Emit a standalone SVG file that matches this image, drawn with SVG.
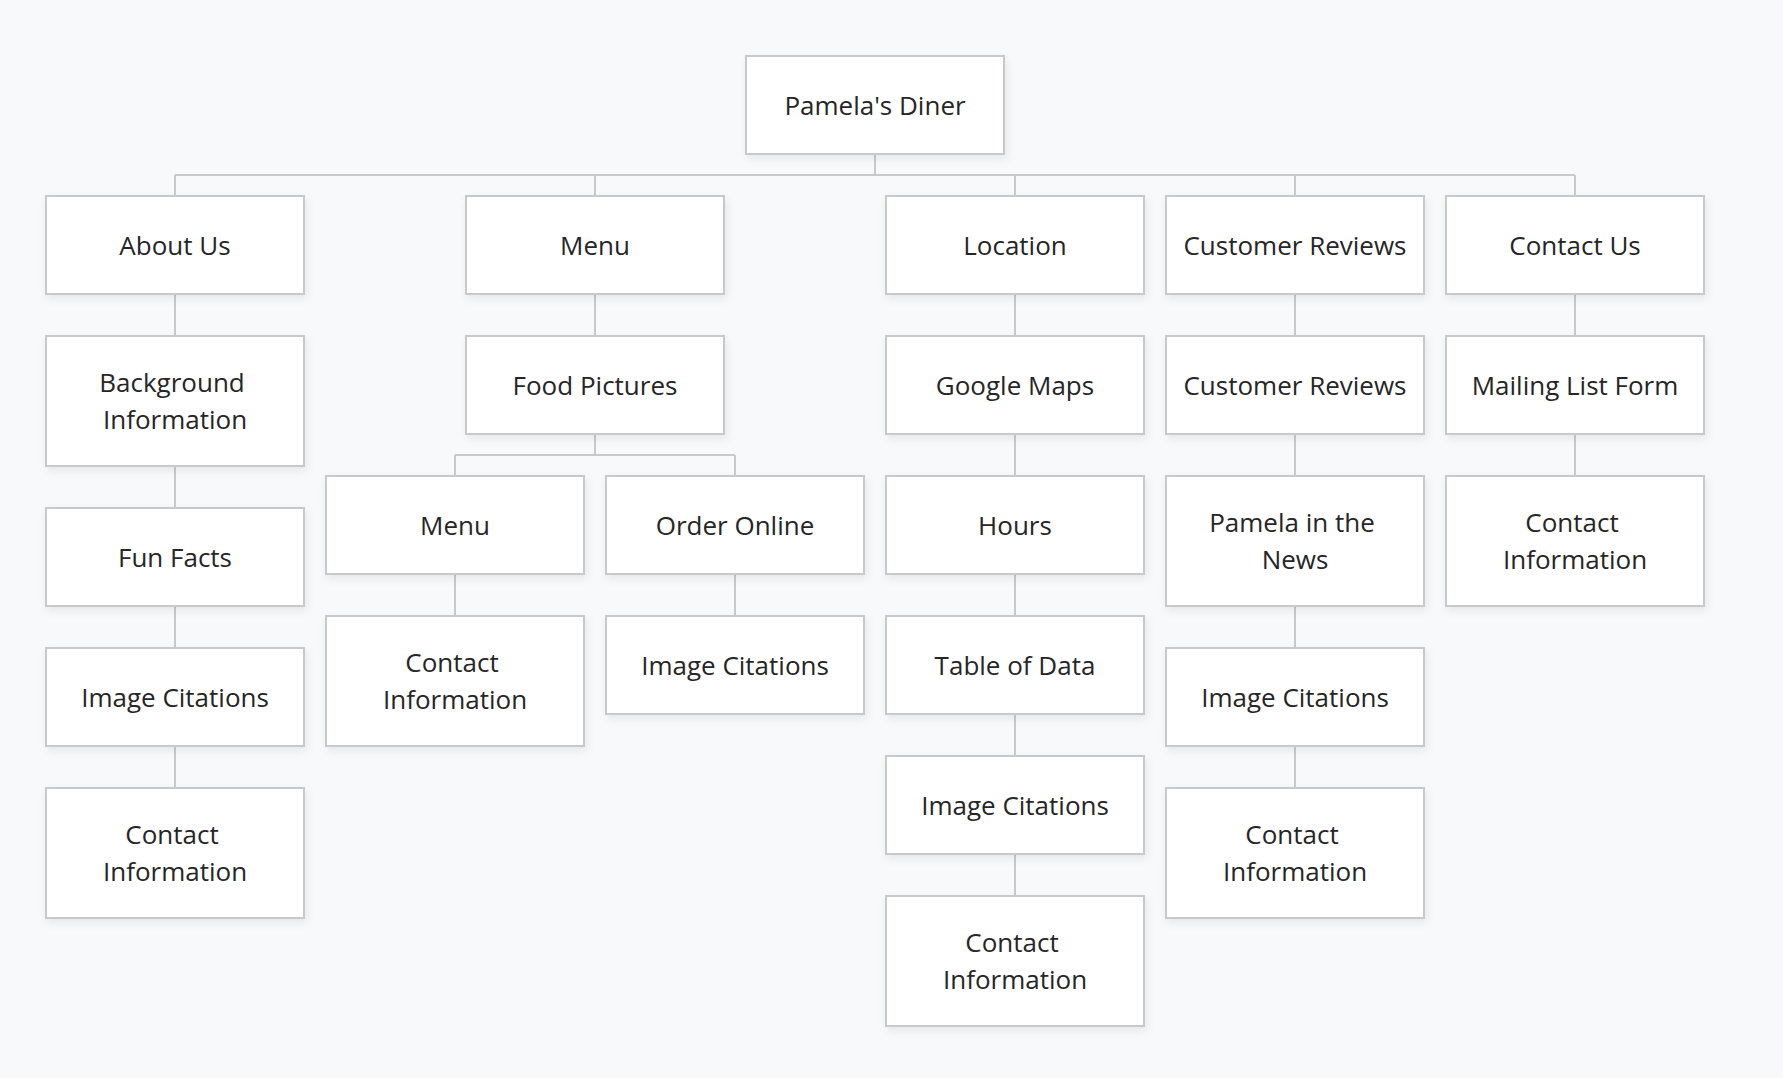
<svg xmlns="http://www.w3.org/2000/svg" width="1783" height="1078" viewBox="0 0 1783 1078">
<style>
.bg{fill:#f8f9fb}
.box{fill:#ffffff;stroke:#c9c9c9;stroke-width:2;filter:url(#sh)}
.lbl{font-family:"Open Sans","Noto Sans","Liberation Sans",sans-serif;font-size:26px;font-weight:400;fill:#262626;text-anchor:middle}
.conn{stroke:#c9c9c9;stroke-width:2;fill:none}
</style>
<defs>
<filter id="sh" x="-10%" y="-10%" width="125%" height="135%">
<feDropShadow dx="2" dy="4" stdDeviation="4" flood-color="#000" flood-opacity="0.07"/>
</filter>
</defs>
<rect class="bg" x="0" y="0" width="1783" height="1078"/>
<g id="connectors">
<path class="conn" d="M875 154V175M175 175H1575M175 175V196M595 175V196M1015 175V196M1295 175V196M1575 175V196"/>
<path class="conn" d="M175 294V336M175 466V508M175 606V648M175 746V788"/>
<path class="conn" d="M595 294V336M595 434V455M455 455H735M455 455V476M735 455V476M455 574V616M735 574V616"/>
<path class="conn" d="M1015 294V336M1015 434V476M1015 574V616M1015 714V756M1015 854V896"/>
<path class="conn" d="M1295 294V336M1295 434V476M1295 606V648M1295 746V788"/>
<path class="conn" d="M1575 294V336M1575 434V476"/>
</g>
<g id="root"><rect class="box" x="746" y="56" width="258" height="98"/><text class="lbl" x="875" y="115">Pamela's Diner</text></g>

<g id="about"><rect class="box" x="46" y="196" width="258" height="98"/><text class="lbl" x="175" y="255">About Us</text></g>
<g id="background"><rect class="box" x="46" y="336" width="258" height="130"/><text class="lbl" x="172" y="392">Background</text><text class="lbl" x="175" y="429">Information</text></g>
<g id="funfacts"><rect class="box" x="46" y="508" width="258" height="98"/><text class="lbl" x="175" y="567">Fun Facts</text></g>
<g id="about-imgcit"><rect class="box" x="46" y="648" width="258" height="98"/><text class="lbl" x="175" y="707">Image Citations</text></g>
<g id="about-contact"><rect class="box" x="46" y="788" width="258" height="130"/><text class="lbl" x="172" y="844">Contact</text><text class="lbl" x="175" y="881">Information</text></g>

<g id="menu"><rect class="box" x="466" y="196" width="258" height="98"/><text class="lbl" x="595" y="255">Menu</text></g>
<g id="foodpics"><rect class="box" x="466" y="336" width="258" height="98"/><text class="lbl" x="595" y="395">Food Pictures</text></g>
<g id="submenu"><rect class="box" x="326" y="476" width="258" height="98"/><text class="lbl" x="455" y="535">Menu</text></g>
<g id="menu-contact"><rect class="box" x="326" y="616" width="258" height="130"/><text class="lbl" x="452" y="672">Contact</text><text class="lbl" x="455" y="709">Information</text></g>
<g id="orderonline"><rect class="box" x="606" y="476" width="258" height="98"/><text class="lbl" x="735" y="535">Order Online</text></g>
<g id="order-imgcit"><rect class="box" x="606" y="616" width="258" height="98"/><text class="lbl" x="735" y="675">Image Citations</text></g>

<g id="location"><rect class="box" x="886" y="196" width="258" height="98"/><text class="lbl" x="1015" y="255">Location</text></g>
<g id="googlemaps"><rect class="box" x="886" y="336" width="258" height="98"/><text class="lbl" x="1015" y="395">Google Maps</text></g>
<g id="hours"><rect class="box" x="886" y="476" width="258" height="98"/><text class="lbl" x="1015" y="535">Hours</text></g>
<g id="tableofdata"><rect class="box" x="886" y="616" width="258" height="98"/><text class="lbl" x="1015" y="675">Table of Data</text></g>
<g id="loc-imgcit"><rect class="box" x="886" y="756" width="258" height="98"/><text class="lbl" x="1015" y="815">Image Citations</text></g>
<g id="loc-contact"><rect class="box" x="886" y="896" width="258" height="130"/><text class="lbl" x="1012" y="952">Contact</text><text class="lbl" x="1015" y="989">Information</text></g>

<g id="reviews"><rect class="box" x="1166" y="196" width="258" height="98"/><text class="lbl" x="1295" y="255">Customer Reviews</text></g>
<g id="reviews2"><rect class="box" x="1166" y="336" width="258" height="98"/><text class="lbl" x="1295" y="395">Customer Reviews</text></g>
<g id="news"><rect class="box" x="1166" y="476" width="258" height="130"/><text class="lbl" x="1292" y="532">Pamela in the</text><text class="lbl" x="1295" y="569">News</text></g>
<g id="rev-imgcit"><rect class="box" x="1166" y="648" width="258" height="98"/><text class="lbl" x="1295" y="707">Image Citations</text></g>
<g id="rev-contact"><rect class="box" x="1166" y="788" width="258" height="130"/><text class="lbl" x="1292" y="844">Contact</text><text class="lbl" x="1295" y="881">Information</text></g>

<g id="contactus"><rect class="box" x="1446" y="196" width="258" height="98"/><text class="lbl" x="1575" y="255">Contact Us</text></g>
<g id="mailing"><rect class="box" x="1446" y="336" width="258" height="98"/><text class="lbl" x="1575" y="395">Mailing List Form</text></g>
<g id="cu-contact"><rect class="box" x="1446" y="476" width="258" height="130"/><text class="lbl" x="1572" y="532">Contact</text><text class="lbl" x="1575" y="569">Information</text></g>
</svg>
